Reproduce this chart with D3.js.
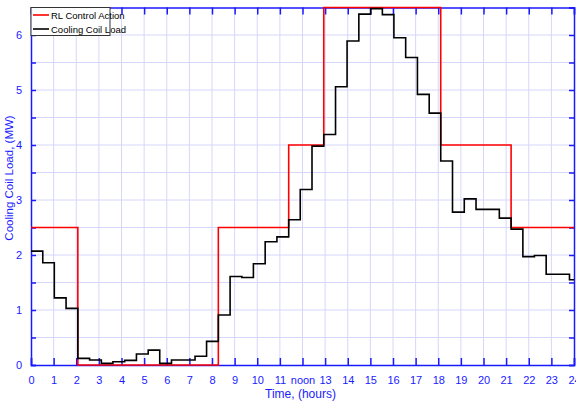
<!DOCTYPE html>
<html>
<head>
<meta charset="utf-8">
<script src="https://cdn.jsdelivr.net/npm/d3@7"></script>
<style>
  html, body { margin: 0; padding: 0; background: #fff; }
  svg { display: block; font-family: "Liberation Sans Narrow", "Liberation Sans", Arial, sans-serif; }
</style>
</head>
<body>
<svg id="chart"></svg>
<script>
'use strict';

// step start times (hours) of the cooling coil load
var loadTimes = [0, 0.52, 1.03, 1.55, 2.07, 2.59, 3.11, 3.62, 4.14, 4.66, 5.18, 5.69,
    6.21, 6.73, 7.25, 7.76, 8.28, 8.8, 9.32, 9.83, 10.35, 10.87, 11.39, 11.9,
    12.42, 12.94, 13.46, 13.97, 14.49, 15.01, 15.53, 16.04, 16.56, 17.08, 17.6,
    18.11, 18.63, 19.15, 19.67, 20.18, 20.7, 21.22, 21.74, 22.25, 22.77, 23.29, 23.8];
var loadValues = [2.07, 1.86, 1.22, 1.03, 0.12, 0.09, 0.03, 0.06, 0.085, 0.2, 0.27, 0.03,
    0.09, 0.09, 0.16, 0.43, 0.91, 1.61, 1.59, 1.84, 2.24, 2.33, 2.64, 3.19,
    3.98, 4.19, 5.06, 5.89, 6.38, 6.48, 6.37, 5.95, 5.59, 4.92, 4.58,
    3.71, 2.78, 3.02, 2.83, 2.83, 2.67, 2.47, 1.97, 1.99, 1.65, 1.65, 1.55];

// RL control action steps
var actionTimes = [0, 2.07, 8.28, 11.39, 12.94, 18.11, 21.22];
var actionValues = [2.5, 0, 2.5, 4, 6.5, 4, 2.5];

var hourTicks = d3.range(0, 25);
var hourLabels = hourTicks.map(function(h) { return h === 12 ? 'noon' : String(h); });
var loadTicks = d3.range(0, 6.51, 0.5);
var loadLabels = [0, 1, 2, 3, 4, 5, 6];

var svgWidth = 576, svgHeight = 405,
    margin = { top: 7.5, right: 2, bottom: 40, left: 31 },
    endHour = 24, maxLoad = 6.5;

var blue = '#1a1aff', grid = '#d6d6fb';

var svg = d3.select('#chart').attr('width', svgWidth).attr('height', svgHeight);

var xScale = d3.scaleLinear().domain([0, endHour]).range([margin.left, svgWidth - margin.right]);
var yScale = d3.scaleLinear().domain([0, maxLoad]).range([svgHeight - margin.bottom, margin.top]);

var x0 = xScale(0), x1 = xScale(endHour), y0 = yScale(0), y1 = yScale(maxLoad);

// grid
svg.append('g').selectAll('line').data(hourTicks.slice(1, -1)).enter().append('line')
    .attr('x1', function(d) { return xScale(d); }).attr('x2', function(d) { return xScale(d); })
    .attr('y1', y0).attr('y2', y1)
    .attr('stroke', grid).attr('stroke-width', 1);
svg.append('g').selectAll('line').data(loadTicks.slice(1, -1)).enter().append('line')
    .attr('y1', function(d) { return yScale(d); }).attr('y2', function(d) { return yScale(d); })
    .attr('x1', x0).attr('x2', x1)
    .attr('stroke', grid).attr('stroke-width', 1);

// axes: bottom / top / left / right with inward ticks
var bottomAxis = d3.axisBottom(xScale).tickValues(hourTicks).tickSize(-7).tickPadding(11)
    .tickFormat(function(d, i) { return hourLabels[i]; });
var topAxis = d3.axisTop(xScale).tickValues(hourTicks).tickSize(-7).tickFormat('');
var leftAxis = d3.axisLeft(yScale).tickValues(loadTicks).tickSize(-5).tickPadding(9)
    .tickFormat(function(d) { return loadLabels.indexOf(d) >= 0 ? d : ''; });
var rightAxis = d3.axisRight(yScale).tickValues(loadTicks).tickSize(-5).tickFormat('');

function styleAxis(g) {
    g.selectAll('path').attr('stroke', blue).attr('stroke-width', 1.5);
    g.selectAll('line').attr('stroke', blue).attr('stroke-width', 1.5);
    g.selectAll('text').attr('fill', blue).style('font-size', '11px')
        .style('font-family', '"Liberation Sans Narrow", Arial, sans-serif');
}

svg.append('g').attr('transform', 'translate(0,' + y0 + ')').call(bottomAxis).call(styleAxis);
svg.append('g').attr('transform', 'translate(0,' + y1 + ')').call(topAxis).call(styleAxis);
svg.append('g').attr('transform', 'translate(' + x0 + ',0)').call(leftAxis).call(styleAxis);
svg.append('g').attr('transform', 'translate(' + x1 + ',0)').call(rightAxis).call(styleAxis);

// step lines
var stepLine = d3.line()
    .x(function(d) { return xScale(d[0]); })
    .y(function(d) { return yScale(d[1]); })
    .curve(d3.curveStepAfter);

var actionData = actionTimes.map(function(t, i) { return [t, actionValues[i]]; });
actionData.push([endHour, actionValues[actionValues.length - 1]]);
var loadData = loadTimes.map(function(t, i) { return [t, loadValues[i]]; });
loadData.push([endHour, loadValues[loadValues.length - 1]]);

svg.append('path').attr('d', stepLine(actionData))
    .attr('fill', 'none').attr('stroke', '#ff0000').attr('stroke-width', 1.6);
svg.append('path').attr('d', stepLine(loadData))
    .attr('fill', 'none').attr('stroke', '#000').attr('stroke-width', 1.6);

// axis titles
svg.append('text').attr('x', (x0 + x1) / 2 - 2).attr('y', 398)
    .attr('text-anchor', 'middle').attr('fill', blue).style('font-size', '12px')
    .text('Time, (hours)');
svg.append('text').attr('transform', 'translate(13,' + 178 + ') rotate(-90)')
    .attr('text-anchor', 'middle').attr('fill', blue).style('font-size', '11.5px')
    .text('Cooling Coil Load, (MW)');

// legend
var legend = svg.append('g').attr('transform', 'translate(' + x0 + ',' + y1 + ')');
legend.append('rect').attr('x', 0).attr('y', 0).attr('width', 79).attr('height', 28)
    .attr('fill', '#fff').attr('stroke', '#333').attr('stroke-width', 1);
var items = [['RL Control Action', '#ff0000'], ['Cooling Coil Load', '#000']];
items.forEach(function(it, i) {
    var y = 7.5 + i * 14;
    legend.append('line').attr('x1', 2).attr('x2', 18).attr('y1', y).attr('y2', y)
        .attr('stroke', it[1]).attr('stroke-width', 1.6);
    legend.append('text').attr('x', 20).attr('y', y + 3.5).attr('fill', '#000')
        .style('font-size', '9.5px').text(it[0]);
});
</script>
</body>
</html>
